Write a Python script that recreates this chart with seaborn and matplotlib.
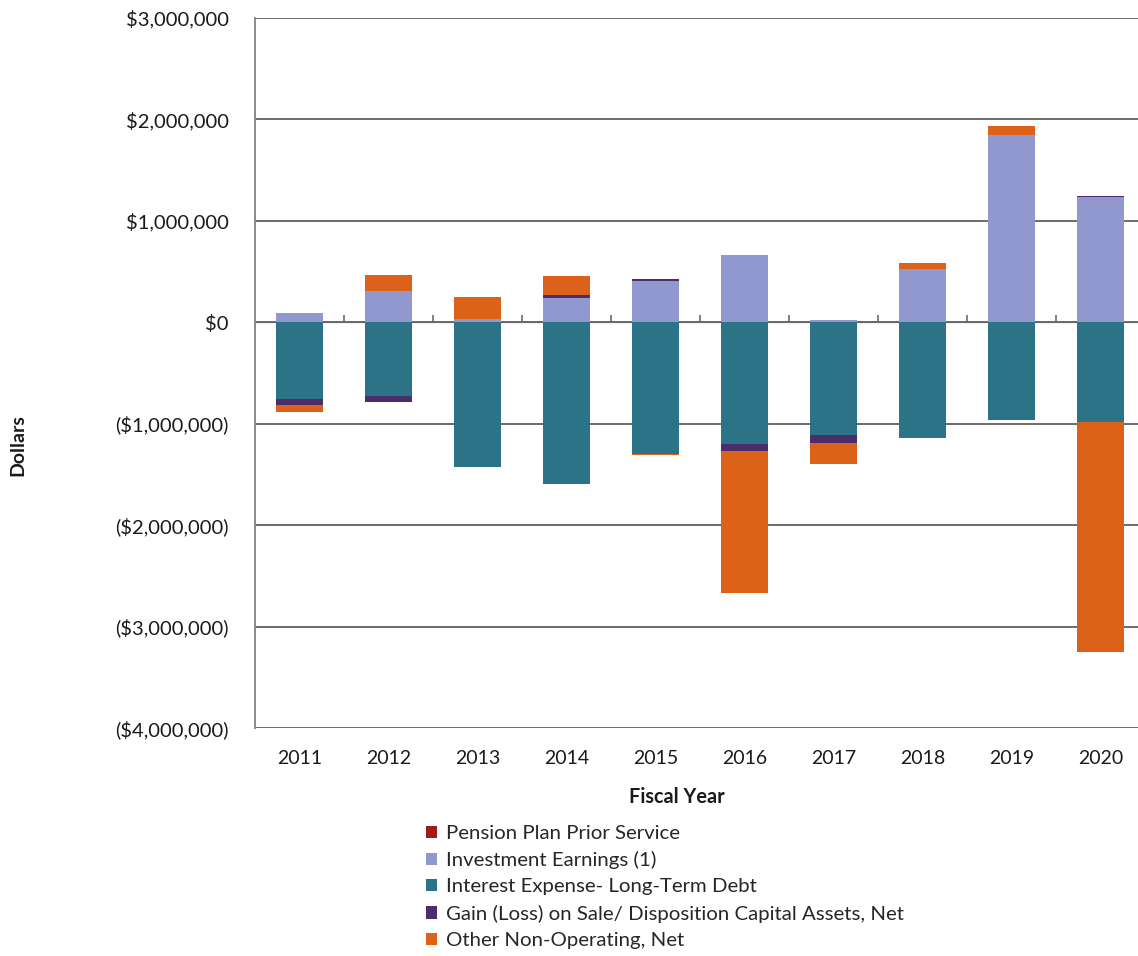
import numpy as np
import pandas as pd
import matplotlib
matplotlib.use("Agg")
import matplotlib.pyplot as plt
import matplotlib.ticker as mticker
from matplotlib.patches import Patch
import seaborn as sns

years = ["2011", "2012", "2013", "2014", "2015", "2016", "2017", "2018", "2019", "2020"]
pension = [0, 0, 0, 0, 0, 0, 0, 0, 0, 0]
investment = [90000, 305000, 30000, 240000, 410000, 660000, 20000, 530000, 1850000, 1240000]
interest = [-760000, -730000, -1430000, -1590000, -1300000, -1200000, -1110000, -1140000, -960000, -980000]
gain = [-60000, -60000, 0, 25000, 15000, -70000, -80000, 0, 0, 10000]
other = [-60000, 160000, 220000, 190000, -10000, -1400000, -210000, 50000, 90000, -2270000]

series = ["Pension Plan Prior Service", "Investment Earnings (1)",
          "Interest Expense- Long-Term Debt",
          "Gain (Loss) on Sale/ Disposition Capital Assets, Net",
          "Other Non-Operating, Net"]
colors = ["#9B1B1E", "#9198D0", "#2C7388", "#4A2D6A", "#DC6219"]

sns.set_style("white")
plt.rcParams["font.family"] = ["Lato", "DejaVu Sans"]

df = pd.DataFrame({"year": years})
vals = [np.array(v, dtype=float) for v in (pension, investment, interest, gain, other)]

fig = plt.figure(figsize=(11.38, 9.56), dpi=100)
ax = fig.add_axes([255 / 1138, 1 - 728 / 956, 890 / 1138, 710 / 956])

# stack positives upward and negatives downward (Excel style); draw cumulative
# totals from the outermost layer inward so the inner layers cover them
pos_cum = np.cumsum([np.clip(v, 0, None) for v in vals], axis=0)
neg_cum = np.cumsum([np.clip(v, None, 0) for v in vals], axis=0)
for i in range(len(vals) - 1, -1, -1):
    for cum in (pos_cum, neg_cum):
        df["v"] = cum[i]
        sns.barplot(data=df, x="year", y="v", color=colors[i], width=0.52,
                    saturation=1, edgecolor="none", linewidth=0, ax=ax, zorder=3)

ax.set_ylim(-4000000, 3000000)
ax.set_xlim(-0.5, 9.5)
ax.set_yticks(np.arange(-4000000, 3000001, 1000000))


def money(v, pos):
    if v < 0:
        return "(${:,.0f})".format(-v)
    return "${:,.0f}".format(v)


ax.yaxis.set_major_formatter(mticker.FuncFormatter(money))
ax.grid(axis="y", color="#6A6A6A", linewidth=1.4, zorder=0)
ax.set_axisbelow(True)
for s in ["top", "right", "bottom"]:
    ax.spines[s].set_visible(False)
ax.spines["left"].set_color("#8A8A8A")
ax.spines["left"].set_linewidth(1.4)
ax.tick_params(axis="y", direction="inout", length=10, width=1.2, color="#8A8A8A",
               labelsize=14.5, pad=14, labelcolor="#1A1A1A")
ax.tick_params(axis="x", length=0, labelsize=14, pad=16, labelcolor="#1A1A1A")
ax.set_xlabel("")
ax.set_ylabel("")

# category-boundary ticks on the zero line
zero_ax = ax.secondary_xaxis(4 / 7)
zero_ax.set_xticks(np.arange(0.5, 9.5, 1.0))
zero_ax.set_xticklabels([])
zero_ax.tick_params(direction="out", length=5, width=1.2, color="#6A6A6A")
zero_ax.spines["bottom"].set_visible(False)

fig.text(18 / 1138, 1 - 445 / 956, "Dollars", rotation=90, fontsize=14,
         fontweight="bold", ha="center", va="center", color="#1A1A1A")
fig.text(677 / 1138, 1 - 797 / 956, "Fiscal Year", fontsize=14.3,
         fontweight="bold", ha="center", va="center", color="#1A1A1A")

handles = [Patch(facecolor=c, edgecolor="none") for c in colors]
fig.legend(handles, series, loc="upper left", bbox_to_anchor=(426 / 1138, 1 - 825 / 956),
           frameon=False, fontsize=14.7, handlelength=0.55, handleheight=0.55,
           handletextpad=0.45, labelspacing=0.45, borderaxespad=0, borderpad=0)

fig.savefig("out.png", dpi=100)
